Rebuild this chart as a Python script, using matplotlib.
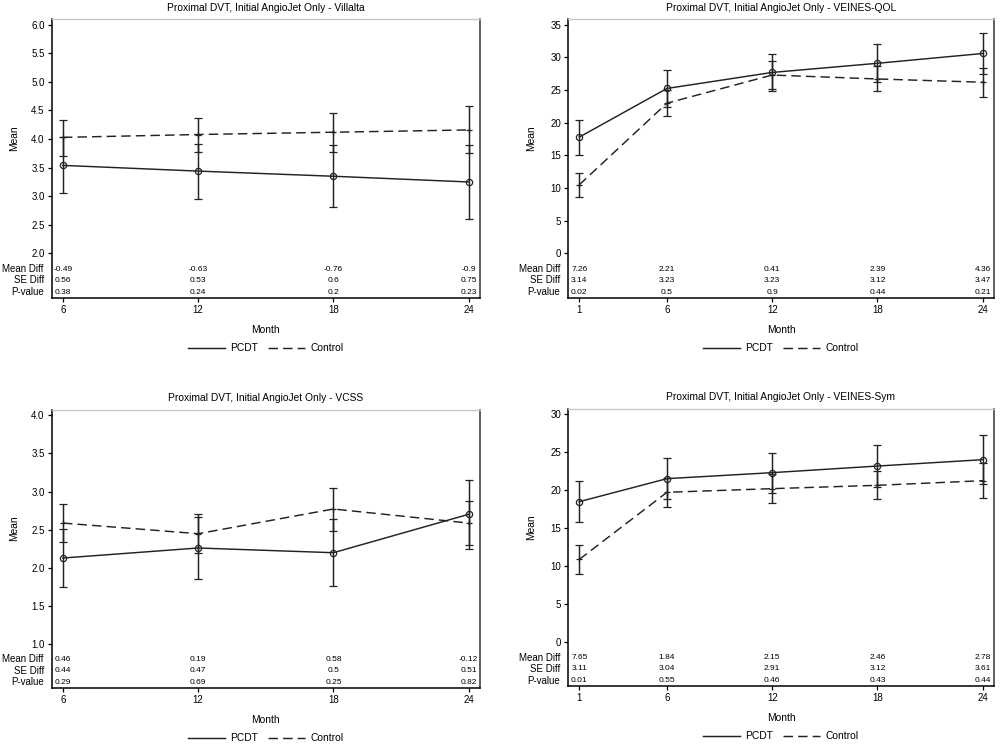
import matplotlib
matplotlib.use("Agg")
import matplotlib.pyplot as plt
from matplotlib.lines import Line2D
import numpy as np

plt.rcParams['font.family'] = ['Liberation Sans', 'DejaVu Sans']

# Villalta
months_a = [6, 12, 18, 24]
vil_pcdt = [3.54, 3.44, 3.35, 3.25]
vil_pcdt_lo = [3.05, 2.96, 2.81, 2.60]
vil_pcdt_hi = [4.04, 3.92, 3.89, 3.90]
vil_ctrl = [4.03, 4.08, 4.12, 4.16]
vil_ctrl_lo = [3.71, 3.77, 3.77, 3.75]
vil_ctrl_hi = [4.34, 4.37, 4.45, 4.57]
vil_mdiff = ["-0.49", "-0.63", "-0.76", "-0.9"]
vil_se = ["0.56", "0.53", "0.6", "0.75"]
vil_p = ["0.38", "0.24", "0.2", "0.23"]
vil_ticks = [2.0, 2.5, 3.0, 3.5, 4.0, 4.5, 5.0, 5.5, 6.0]

# VEINES-QOL
months_b = [1, 6, 12, 18, 24]
qol_pcdt = [17.8, 25.25, 27.7, 29.1, 30.6]
qol_pcdt_lo = [15.0, 22.4, 24.9, 26.3, 27.5]
qol_pcdt_hi = [20.45, 28.05, 30.55, 32.0, 33.7]
qol_ctrl = [10.5, 23.0, 27.3, 26.7, 26.2]
qol_ctrl_lo = [8.6, 21.05, 25.1, 24.8, 24.0]
qol_ctrl_hi = [12.3, 24.95, 29.4, 28.7, 28.4]
qol_mdiff = ["7.26", "2.21", "0.41", "2.39", "4.36"]
qol_se = ["3.14", "3.23", "3.23", "3.12", "3.47"]
qol_p = ["0.02", "0.5", "0.9", "0.44", "0.21"]
qol_ticks = [0, 5, 10, 15, 20, 25, 30, 35]

# VCSS
vcss_pcdt = [2.125, 2.257, 2.195, 2.70]
vcss_pcdt_lo = [1.745, 1.845, 1.757, 2.25]
vcss_pcdt_hi = [2.51, 2.67, 2.64, 3.155]
vcss_ctrl = [2.585, 2.445, 2.77, 2.585]
vcss_ctrl_lo = [2.335, 2.19, 2.485, 2.30]
vcss_ctrl_hi = [2.835, 2.70, 3.045, 2.87]
vcss_mdiff = ["0.46", "0.19", "0.58", "-0.12"]
vcss_se = ["0.44", "0.47", "0.5", "0.51"]
vcss_p = ["0.29", "0.69", "0.25", "0.82"]
vcss_ticks = [1.0, 1.5, 2.0, 2.5, 3.0, 3.5, 4.0]

# VEINES-Sym
sym_pcdt = [18.5, 21.54, 22.33, 23.2, 24.04]
sym_pcdt_lo = [15.79, 18.86, 19.7, 20.5, 20.83]
sym_pcdt_hi = [21.23, 24.2, 24.9, 26.0, 27.28]
sym_ctrl = [10.88, 19.74, 20.22, 20.66, 21.27]
sym_ctrl_lo = [8.95, 17.8, 18.38, 18.82, 19.04]
sym_ctrl_hi = [12.76, 21.6, 22.1, 22.6, 23.55]
sym_mdiff = ["7.65", "1.84", "2.15", "2.46", "2.78"]
sym_se = ["3.11", "3.04", "2.91", "3.12", "3.61"]
sym_p = ["0.01", "0.55", "0.46", "0.43", "0.44"]
sym_ticks = [0, 5, 10, 15, 20, 25, 30]

row_names = ["Mean Diff", "SE Diff", "P-value"]
ink = '#222222'
dash = (6.5, 3.5)


def panel(ax, title, months, pc, pc_lo, pc_hi, ct, ct_lo, ct_hi, rows, ticks, fmt):
    months = np.array(months)
    pc, ct = np.array(pc), np.array(ct)
    ax.errorbar(months, pc, yerr=[pc - np.array(pc_lo), np.array(pc_hi) - pc],
                color=ink, lw=1.05, elinewidth=1.05, capsize=3, capthick=1.05,
                marker='o', ms=4.5, mfc='none', mec=ink, mew=0.9)
    ax.errorbar(months, ct, yerr=[ct - np.array(ct_lo), np.array(ct_hi) - ct],
                color=ink, lw=1.05, elinewidth=1.05, capsize=3, capthick=1.05,
                marker='+', ms=5, mew=0.9, dashes=dash)

    lo, hi = ticks[0], ticks[-1]
    span = hi - lo
    ax.set_ylim(lo - 0.195 * span, hi + 0.025 * span)
    xspan = months[-1] - months[0]
    ax.set_xlim(months[0] - 0.028 * xspan, months[-1] + 0.028 * xspan)
    ax.set_yticks(ticks)
    ax.set_yticklabels([fmt % t for t in ticks])
    ax.set_xticks(months)
    ax.set_xticklabels([str(m) for m in months])
    ax.tick_params(direction='out', length=3, width=0.9, labelsize=7, pad=2, colors='black')

    for sp in ['left', 'bottom']:
        ax.spines[sp].set_color('black')
        ax.spines[sp].set_linewidth(1.1)
    ax.spines['top'].set_color('#c4c4c4')
    ax.spines['top'].set_linewidth(0.9)
    ax.spines['right'].set_color('#444444')
    ax.spines['right'].set_linewidth(1.2)

    ax.set_title(title, fontsize=7.4, pad=6)
    ax.set_xlabel('Month', fontsize=7.4, labelpad=7)
    ax.set_ylabel('Mean', fontsize=7.4)
    ax.yaxis.set_label_coords(-0.075, 0.573)

    row_y = [0.103, 0.063, 0.020]
    for name, vals, yy in zip(row_names, rows, row_y):
        ax.text(-0.018, yy, name, transform=ax.transAxes, ha='right', va='center', fontsize=7)
        for m, v in zip(months, vals):
            ax.text(m, yy, v, transform=ax.get_xaxis_transform(), ha='center', va='center', fontsize=6)

    handles = [Line2D([], [], color=ink, lw=1.05),
               Line2D([], [], color=ink, lw=1.05, dashes=dash)]
    ax.legend(handles, ['PCDT', 'Control'], loc='center', bbox_to_anchor=(0.5, -0.18), ncol=2,
              frameon=False, fontsize=7.4, handlelength=3.6, columnspacing=1.0, handletextpad=0.5)


fig = plt.figure(figsize=(10.01, 7.46), dpi=100)
ax1 = fig.add_axes([0.0515, 0.6005, 0.428, 0.374])
ax2 = fig.add_axes([0.5674, 0.6005, 0.4256, 0.374])
ax3 = fig.add_axes([0.0515, 0.0777, 0.428, 0.373])
ax4 = fig.add_axes([0.5674, 0.0800, 0.4256, 0.372])

panel(ax1, "Proximal DVT, Initial AngioJet Only - Villalta", months_a,
      vil_pcdt, vil_pcdt_lo, vil_pcdt_hi, vil_ctrl, vil_ctrl_lo, vil_ctrl_hi,
      [vil_mdiff, vil_se, vil_p], vil_ticks, '%.1f')
panel(ax2, "Proximal DVT, Initial AngioJet Only - VEINES-QOL", months_b,
      qol_pcdt, qol_pcdt_lo, qol_pcdt_hi, qol_ctrl, qol_ctrl_lo, qol_ctrl_hi,
      [qol_mdiff, qol_se, qol_p], qol_ticks, '%d')
panel(ax3, "Proximal DVT, Initial AngioJet Only - VCSS", months_a,
      vcss_pcdt, vcss_pcdt_lo, vcss_pcdt_hi, vcss_ctrl, vcss_ctrl_lo, vcss_ctrl_hi,
      [vcss_mdiff, vcss_se, vcss_p], vcss_ticks, '%.1f')
panel(ax4, "Proximal DVT, Initial AngioJet Only - VEINES-Sym", months_b,
      sym_pcdt, sym_pcdt_lo, sym_pcdt_hi, sym_ctrl, sym_ctrl_lo, sym_ctrl_hi,
      [sym_mdiff, sym_se, sym_p], sym_ticks, '%d')

fig.savefig('out.png', dpi=100)
